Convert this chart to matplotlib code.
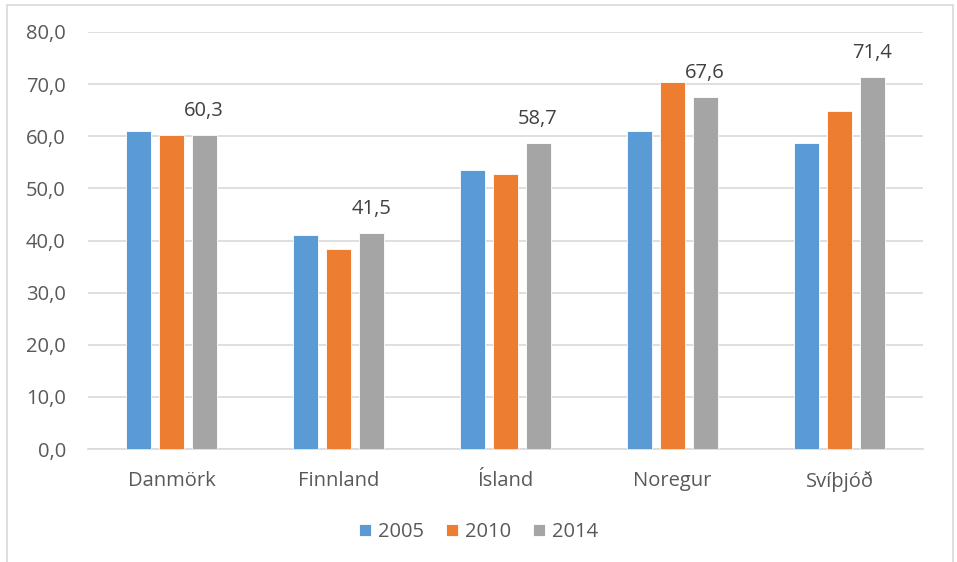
import matplotlib
matplotlib.use("Agg")
import matplotlib.pyplot as plt
import numpy as np
from matplotlib.patches import Rectangle

categories = ["Danmörk", "Finnland", "Ísland", "Noregur", "Svíþjóð"]
years = ["2005", "2010", "2014"]
v2005 = [61.0, 41.0, 53.5, 61.0, 58.7]
v2010 = [60.2, 38.4, 52.7, 70.4, 64.8]
v2014 = [60.3, 41.5, 58.7, 67.6, 71.4]
yticks = [0, 10, 20, 30, 40, 50, 60, 70, 80]
colors = ["#5B9BD5", "#ED7D31", "#A5A5A5"]

plt.rcParams['font.family'] = ['Open Sans', 'DejaVu Sans']
FS = 14.5

fig = plt.figure(figsize=(9.57, 5.62), dpi=100)
ax = fig.add_axes([88/957, 1 - 449/562, (923-88)/957, (449-32)/562])

x = np.arange(len(categories))
w = 0.15
offs = [-0.195, 0.0, 0.195]
series = [v2005, v2010, v2014]
for s, off, c, lab in zip(series, offs, colors, years):
    ax.bar(x + off, s, width=w, color=c, edgecolor='white', linewidth=0.6, label=lab, zorder=3)

for xi, v in zip(x, v2014):
    ax.text(xi + offs[2], v + 2.6, f"{v:.1f}".replace('.', ','), ha='center', va='bottom',
            fontsize=FS, color='#404040')

ax.set_xlim(-0.5, len(categories) - 0.5)
ax.set_ylim(0, 80)
ax.set_yticks(yticks)
ax.set_yticklabels([f"{t:.1f}".replace('.', ',') for t in yticks])
ax.set_xticks(x)
ax.set_xticklabels(categories)
ax.tick_params(axis='both', length=0, labelsize=FS, colors='#595959')
ax.tick_params(axis='y', pad=16)
ax.tick_params(axis='x', pad=16)
ax.grid(axis='y', color='#D9D9D9', linewidth=1.2, zorder=0)
for sp in ['top', 'right', 'left']:
    ax.spines[sp].set_visible(False)
ax.spines['bottom'].set_color('#D9D9D9')
ax.spines['bottom'].set_linewidth(1.2)

leg = fig.legend(loc='center', bbox_to_anchor=(0.5, 1 - 532/562), ncol=3, frameon=False,
                 fontsize=FS, handlelength=0.6, handleheight=0.6, handletextpad=0.35,
                 columnspacing=1.1, labelcolor='#595959')

border = Rectangle((7/957, -0.05), (953-7)/957, 1 - 5/562 + 0.05, transform=fig.transFigure,
                   fill=False, edgecolor='#D9D9D9', linewidth=1.2)
fig.add_artist(border)

fig.savefig("out.png", dpi=100)
